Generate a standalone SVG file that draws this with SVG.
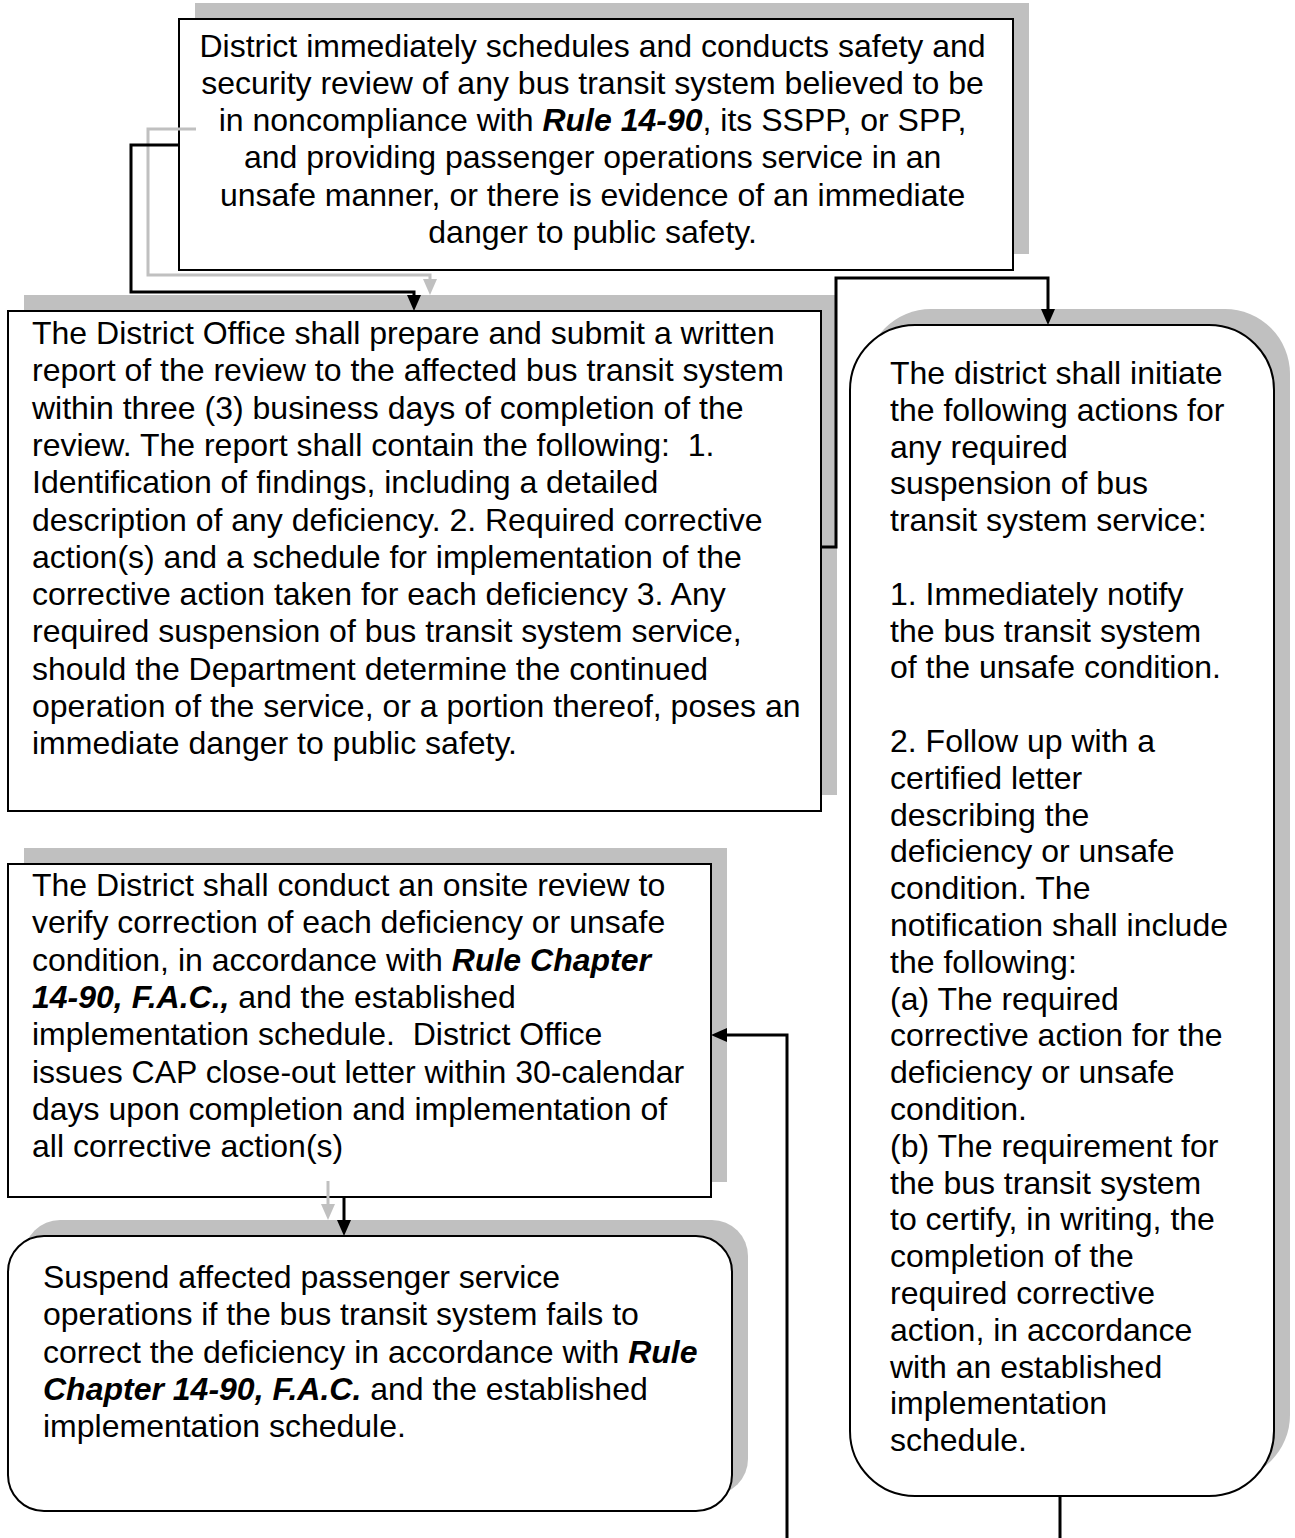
<svg xmlns="http://www.w3.org/2000/svg" width="1295" height="1538" viewBox="0 0 1295 1538">
<style>
.sh{fill:#c0c0c0;stroke:none}
.bx{fill:#fff;stroke:#000;stroke-width:2}
.t{font-family:"Liberation Sans",Arial,sans-serif;font-size:32px;fill:#000}
.b{font-weight:bold;font-style:italic}
.c{fill:none;stroke:#000;stroke-width:3}
.g{fill:none;stroke:#c0c0c0;stroke-width:3}
</style>
<defs>
<marker id="ab" viewBox="0 0 16 14" refX="4" refY="7" markerWidth="16" markerHeight="14" markerUnits="userSpaceOnUse" orient="auto"><path d="M0,0 L16,7 L0,14 z" fill="#000"/></marker>
<marker id="ag" viewBox="0 0 16 14" refX="4" refY="7" markerWidth="16" markerHeight="14" markerUnits="userSpaceOnUse" orient="auto"><path d="M0,0 L16,7 L0,14 z" fill="#c0c0c0"/></marker>
</defs>

<g id="node1">
<rect class="sh" x="195" y="3" width="834" height="251"/>
<rect class="bx" x="179" y="19" width="834" height="251"/>
<text class="t" text-anchor="middle" xml:space="preserve">
<tspan x="597" y="56.5">District immediately schedules and conducts safety and</tspan>
<tspan x="597" y="93.8">security review of any bus transit system believed to be</tspan>
<tspan x="597" y="131.1">in noncompliance with <tspan class="b">Rule 14-90</tspan>, its SSPP, or SPP,</tspan>
<tspan x="597" y="168.4">and providing passenger operations service in an</tspan>
<tspan x="597" y="205.7">unsafe manner, or there is evidence of an immediate</tspan>
<tspan x="597" y="243">danger to public safety.</tspan>
</text>
</g>

<g id="node2">
<rect class="sh" x="24" y="295" width="813" height="500"/>
<rect class="bx" x="8" y="311" width="813" height="500"/>
<text class="t" xml:space="preserve">
<tspan x="32" y="344">The District Office shall prepare and submit a written</tspan>
<tspan x="32" y="381.3">report of the review to the affected bus transit system</tspan>
<tspan x="32" y="418.6">within three (3) business days of completion of the</tspan>
<tspan x="32" y="455.9">review. The report shall contain the following:  1.</tspan>
<tspan x="32" y="493.2">Identification of findings, including a detailed</tspan>
<tspan x="32" y="530.5">description of any deficiency. 2. Required corrective</tspan>
<tspan x="32" y="567.8">action(s) and a schedule for implementation of the</tspan>
<tspan x="32" y="605.1">corrective action taken for each deficiency 3. Any</tspan>
<tspan x="32" y="642.4">required suspension of bus transit system service,</tspan>
<tspan x="32" y="679.7">should the Department determine the continued</tspan>
<tspan x="32" y="717">operation of the service, or a portion thereof, poses an</tspan>
<tspan x="32" y="754.3">immediate danger to public safety.</tspan>
</text>
</g>

<g id="node3">
<rect class="sh" x="866" y="309" width="424" height="1171" rx="65" ry="65"/>
<rect class="bx" x="850" y="325" width="424" height="1171" rx="65" ry="65"/>
<text class="t" xml:space="preserve">
<tspan x="890" y="384">The district shall initiate</tspan>
<tspan x="890" y="420.8">the following actions for</tspan>
<tspan x="890" y="457.6">any required</tspan>
<tspan x="890" y="494.4">suspension of bus</tspan>
<tspan x="890" y="531.2">transit system service:</tspan>
<tspan x="890" y="604.8">1. Immediately notify</tspan>
<tspan x="890" y="641.6">the bus transit system</tspan>
<tspan x="890" y="678.4">of the unsafe condition.</tspan>
<tspan x="890" y="752">2. Follow up with a</tspan>
<tspan x="890" y="788.8">certified letter</tspan>
<tspan x="890" y="825.6">describing the</tspan>
<tspan x="890" y="862.4">deficiency or unsafe</tspan>
<tspan x="890" y="899.2">condition. The</tspan>
<tspan x="890" y="936">notification shall include</tspan>
<tspan x="890" y="972.8">the following:</tspan>
<tspan x="890" y="1009.6">(a) The required</tspan>
<tspan x="890" y="1046.4">corrective action for the</tspan>
<tspan x="890" y="1083.2">deficiency or unsafe</tspan>
<tspan x="890" y="1120">condition.</tspan>
<tspan x="890" y="1156.8">(b) The requirement for</tspan>
<tspan x="890" y="1193.6">the bus transit system</tspan>
<tspan x="890" y="1230.4">to certify, in writing, the</tspan>
<tspan x="890" y="1267.2">completion of the</tspan>
<tspan x="890" y="1304">required corrective</tspan>
<tspan x="890" y="1340.8">action, in accordance</tspan>
<tspan x="890" y="1377.6">with an established</tspan>
<tspan x="890" y="1414.4">implementation</tspan>
<tspan x="890" y="1451.2">schedule.</tspan>
</text>
</g>

<g id="node4">
<rect class="sh" x="24" y="848" width="703" height="334"/>
<rect class="bx" x="8" y="864" width="703" height="333"/>
<text class="t" xml:space="preserve">
<tspan x="32" y="896">The District shall conduct an onsite review to</tspan>
<tspan x="32" y="933.3">verify correction of each deficiency or unsafe</tspan>
<tspan x="32" y="970.6">condition, in accordance with <tspan class="b">Rule Chapter</tspan></tspan>
<tspan x="32" y="1007.9"><tspan class="b">14-90, F.A.C.,</tspan> and the established</tspan>
<tspan x="32" y="1045.2">implementation schedule.  District Office</tspan>
<tspan x="32" y="1082.5">issues CAP close-out letter within 30-calendar</tspan>
<tspan x="32" y="1119.8">days upon completion and implementation of</tspan>
<tspan x="32" y="1157.1">all corrective action(s)</tspan>
</text>
</g>

<g id="node5">
<rect class="sh" x="24" y="1220" width="724" height="275" rx="36" ry="36"/>
<rect class="bx" x="8" y="1236" width="724" height="275" rx="36" ry="36"/>
<text class="t" xml:space="preserve">
<tspan x="43" y="1288">Suspend affected passenger service</tspan>
<tspan x="43" y="1325.3">operations if the bus transit system fails to</tspan>
<tspan x="43" y="1362.6">correct the deficiency in accordance with <tspan class="b">Rule</tspan></tspan>
<tspan x="43" y="1399.9"><tspan class="b">Chapter 14-90, F.A.C.</tspan> and the established</tspan>
<tspan x="43" y="1437.2">implementation schedule.</tspan>
</text>
</g>

<g id="connectors">
<path class="g" d="M196,129 H148 V275 H430 V283" marker-end="url(#ag)"/>
<path class="g" d="M328,1181 V1208" marker-end="url(#ag)"/>
<path class="c" d="M179,145 H131 V292 H414 V299" marker-end="url(#ab)"/>
<path class="c" d="M821,547 H836 V278 H1048 V313" marker-end="url(#ab)"/>
<path class="c" d="M1060,1496 V1560 H787 V1035 H723" marker-end="url(#ab)"/>
<path class="c" d="M344,1197 V1224" marker-end="url(#ab)"/>
</g>
</svg>
